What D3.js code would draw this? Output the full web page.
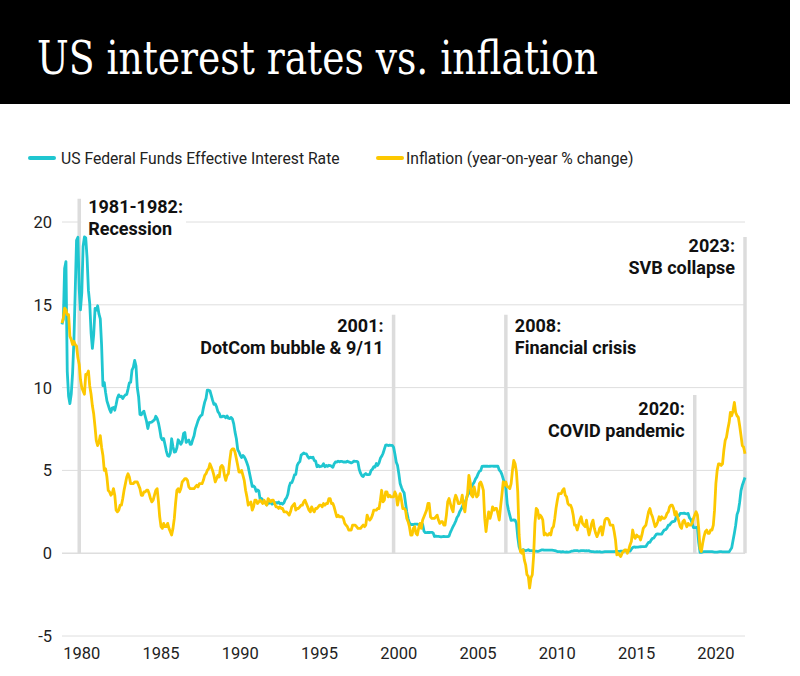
<!DOCTYPE html>
<html><head><meta charset="utf-8">
<script src="https://cdn.jsdelivr.net/npm/d3@7"></script>
<style>body{margin:0;background:#fff}svg{display:block}</style>
</head><body>
<svg id="chart" width="800" height="676"></svg>
<script>
// ---------------- DATA ----------------
const chartTitle = "US interest rates vs. inflation";
const seriesNames = ["US Federal Funds Effective Interest Rate", "Inflation (year-on-year % change)"];
const startYear = 1980; // monthly series starting January 1980

const fedFunds = [
 13.82,14.13,17.19,17.61,10.98,9.47,9.03,9.61,10.87,12.81,15.85,18.90,
 19.08,15.93,14.70,15.72,18.52,19.10,19.04,17.82,15.87,15.08,13.31,12.37,
 13.22,14.78,14.68,14.94,14.45,14.15,12.59,10.12,10.31,9.71,9.20,8.95,
 8.68,8.51,8.77,8.80,8.63,8.98,9.37,9.56,9.45,9.48,9.34,9.47,
 9.56,9.59,9.91,10.29,10.32,11.06,11.23,11.64,11.30,9.99,9.43,8.38,
 8.35,8.50,8.58,8.27,7.97,7.53,7.88,7.90,7.92,7.99,8.05,8.27,
 8.14,7.86,7.48,6.99,6.85,6.92,6.56,6.17,5.89,5.85,6.04,6.91,
 6.43,6.10,6.13,6.37,6.85,6.73,6.58,6.73,7.22,7.29,6.69,6.77,
 6.83,6.58,6.58,6.87,7.09,7.51,7.75,8.01,8.19,8.30,8.35,8.76,
 9.12,9.36,9.85,9.84,9.81,9.53,9.24,8.99,9.02,8.84,8.55,8.45,
 8.23,8.24,8.28,8.26,8.18,8.29,8.15,8.13,8.20,8.11,7.81,7.31,
 6.91,6.25,6.12,5.91,5.78,5.90,5.82,5.66,5.45,5.21,4.81,4.43,
 4.03,4.06,3.98,3.73,3.82,3.76,3.25,3.30,3.22,3.10,3.09,2.92,
 3.02,3.03,3.07,2.96,3.00,3.04,3.06,3.03,3.09,2.99,3.02,2.96,
 3.05,3.25,3.34,3.56,4.01,4.25,4.26,4.47,4.73,4.76,5.29,5.45,
 5.53,5.92,5.98,6.05,6.01,6.00,5.85,5.74,5.80,5.76,5.80,5.60,
 5.56,5.22,5.31,5.22,5.24,5.27,5.40,5.22,5.30,5.24,5.31,5.29,
 5.25,5.19,5.39,5.51,5.50,5.56,5.52,5.54,5.54,5.50,5.52,5.50,
 5.56,5.51,5.49,5.45,5.49,5.56,5.54,5.55,5.51,5.07,4.83,4.68,
 4.63,4.76,4.81,4.74,4.74,4.76,4.99,5.07,5.22,5.20,5.42,5.30,
 5.45,5.73,5.85,6.02,6.27,6.53,6.54,6.50,6.52,6.51,6.51,6.40,
 5.98,5.49,5.31,4.80,4.21,3.97,3.77,3.65,3.07,2.49,2.09,1.82,
 1.73,1.74,1.73,1.75,1.75,1.75,1.73,1.74,1.75,1.75,1.34,1.24,
 1.24,1.26,1.25,1.26,1.26,1.22,1.01,1.03,1.01,1.01,1.00,0.98,
 1.00,1.01,1.00,1.00,1.00,1.03,1.26,1.43,1.61,1.76,1.93,2.16,
 2.28,2.50,2.63,2.79,3.00,3.04,3.26,3.50,3.62,3.78,4.00,4.16,
 4.29,4.49,4.59,4.79,4.94,4.99,5.24,5.25,5.25,5.25,5.25,5.24,
 5.25,5.26,5.26,5.25,5.25,5.25,5.26,5.02,4.94,4.76,4.49,4.24,
 3.94,2.98,2.61,2.28,1.98,2.00,2.01,2.00,1.81,0.97,0.39,0.16,
 0.15,0.22,0.18,0.15,0.18,0.21,0.16,0.16,0.15,0.12,0.12,0.12,
 0.11,0.13,0.16,0.20,0.20,0.18,0.18,0.19,0.19,0.19,0.19,0.18,
 0.17,0.16,0.14,0.10,0.09,0.09,0.07,0.10,0.08,0.07,0.08,0.07,
 0.08,0.10,0.13,0.14,0.16,0.16,0.16,0.13,0.14,0.16,0.16,0.16,
 0.14,0.15,0.14,0.15,0.11,0.09,0.09,0.08,0.08,0.09,0.08,0.09,
 0.07,0.07,0.08,0.09,0.09,0.10,0.09,0.09,0.09,0.09,0.09,0.12,
 0.11,0.11,0.11,0.12,0.12,0.13,0.13,0.14,0.14,0.12,0.12,0.24,
 0.34,0.38,0.36,0.37,0.37,0.38,0.39,0.40,0.40,0.40,0.41,0.54,
 0.65,0.66,0.79,0.90,0.91,1.04,1.15,1.16,1.15,1.15,1.16,1.30,
 1.41,1.42,1.51,1.69,1.70,1.82,1.91,1.91,1.95,2.19,2.20,2.27,
 2.40,2.40,2.41,2.42,2.39,2.38,2.40,2.13,2.04,1.83,1.55,1.55,
 1.55,1.58,0.65,0.05,0.05,0.08,0.09,0.10,0.09,0.09,0.09,0.09,
 0.09,0.08,0.07,0.07,0.06,0.08,0.10,0.09,0.08,0.08,0.08,0.08,
 0.08,0.08,0.20,0.33,0.77,1.21,1.68,2.33,2.56,3.08,3.78,4.10,
 4.33,4.57
];

const inflation = [
 13.9,14.2,14.8,14.7,14.4,14.4,13.1,12.9,12.6,12.8,12.6,12.5,
 11.8,11.4,10.5,10.0,9.8,9.6,10.8,10.8,11.0,10.1,9.6,8.9,
 8.4,7.6,6.8,6.5,6.7,7.1,6.4,5.9,5.0,5.1,4.6,3.8,
 3.7,3.5,3.6,3.9,3.5,2.6,2.5,2.6,2.9,2.9,3.3,3.8,
 4.2,4.6,4.8,4.6,4.2,4.2,4.2,4.3,4.3,4.3,4.1,3.9,
 3.5,3.5,3.7,3.7,3.8,3.8,3.6,3.3,3.1,3.2,3.5,3.8,
 3.9,3.1,2.2,1.6,1.5,1.8,1.6,1.6,1.8,1.5,1.3,1.1,
 1.5,2.1,3.0,3.8,3.9,3.7,3.9,4.3,4.4,4.5,4.5,4.4,
 4.0,3.9,3.9,3.9,3.9,4.0,4.1,4.0,4.2,4.2,4.2,4.4,
 4.7,4.8,5.0,5.1,5.4,5.2,5.0,4.7,4.3,4.5,4.7,4.6,
 5.2,5.3,5.2,4.7,4.4,4.7,4.8,5.6,6.2,6.3,6.3,6.1,
 5.7,5.3,4.9,4.9,5.0,4.7,4.4,3.8,3.4,2.9,3.0,3.1,
 2.6,2.8,3.2,3.2,3.0,3.1,3.2,3.1,3.0,3.2,3.0,2.9,
 3.3,3.2,3.1,3.2,3.2,3.0,2.8,2.8,2.7,2.8,2.7,2.7,
 2.5,2.5,2.5,2.4,2.3,2.5,2.8,2.9,3.0,2.6,2.7,2.7,
 2.8,2.9,2.9,3.1,3.2,3.0,2.8,2.6,2.5,2.8,2.6,2.5,
 2.7,2.7,2.8,2.9,2.9,2.8,3.0,2.9,3.0,3.0,3.3,3.3,
 3.0,3.0,2.8,2.5,2.2,2.3,2.2,2.2,2.2,2.1,1.8,1.7,
 1.6,1.4,1.4,1.4,1.7,1.7,1.7,1.6,1.5,1.5,1.5,1.6,
 1.7,1.6,1.7,2.3,2.1,2.0,2.1,2.3,2.6,2.6,2.6,2.7,
 2.7,3.2,3.8,3.1,3.2,3.7,3.7,3.4,3.5,3.4,3.4,3.4,
 3.7,3.5,2.9,3.3,3.6,3.2,2.7,2.7,2.6,2.1,1.9,1.6,
 1.1,1.1,1.5,1.6,1.2,1.1,1.5,1.8,1.5,2.0,2.2,2.4,
 2.6,3.0,3.0,2.2,2.1,2.1,2.1,2.2,2.3,2.0,1.8,1.9,
 1.9,1.7,1.7,2.3,3.1,3.3,3.0,2.7,2.5,3.2,3.5,3.3,
 3.0,3.0,3.1,3.5,2.8,2.5,3.2,3.6,4.7,4.3,3.5,3.4,
 4.0,3.6,3.4,3.5,4.2,4.3,4.1,3.8,2.1,1.3,2.0,2.5,
 2.1,2.4,2.8,2.6,2.7,2.7,2.4,2.0,2.8,3.5,4.3,4.1,
 4.3,4.0,4.0,3.9,4.2,5.0,5.6,5.4,4.9,3.7,1.1,0.1,
 0.0,0.2,-0.4,-0.7,-1.3,-1.4,-2.1,-1.5,-1.3,-0.2,1.8,2.7,
 2.6,2.1,2.3,2.2,2.0,1.1,1.2,1.1,1.1,1.2,1.1,1.5,
 1.6,2.1,2.7,3.2,3.6,3.6,3.6,3.8,3.9,3.5,3.4,3.0,
 2.9,2.9,2.7,2.3,1.7,1.7,1.4,1.7,2.0,2.2,1.8,1.7,
 1.6,2.0,1.5,1.1,1.4,1.8,2.0,1.5,1.2,1.0,1.2,1.5,
 1.6,1.1,1.5,2.0,2.1,2.1,2.0,1.7,1.7,1.7,1.3,0.8,
 -0.1,0.0,-0.1,-0.2,0.0,0.1,0.2,0.2,0.0,0.2,0.5,0.7,
 1.4,1.0,0.9,1.1,1.0,1.0,0.8,1.1,1.5,1.6,1.7,2.1,
 2.5,2.7,2.4,2.2,1.9,1.6,1.7,1.9,2.2,2.0,2.2,2.1,
 2.1,2.2,2.4,2.5,2.8,2.9,2.9,2.7,2.3,2.5,2.2,1.9,
 1.6,1.5,1.9,2.0,1.8,1.6,1.8,1.7,1.7,1.8,2.1,2.3,
 2.5,2.3,1.5,0.3,0.1,0.6,1.0,1.3,1.4,1.2,1.2,1.4,
 1.4,1.7,2.6,4.2,5.0,5.4,5.4,5.3,5.4,6.2,6.8,7.0,
 7.5,7.9,8.5,8.3,8.6,9.1,8.5,8.3,8.2,7.7,7.1,6.5,
 6.4,6.0
];

const yTickValues = [-5, 0, 5, 10, 15, 20];
const xTickYears = [1980, 1985, 1990, 1995, 2000, 2005, 2010, 2015, 2020];

const eventDates = ["1981-02", "2000-12", "2008-01", "2019-12", "2023-02"];
const eventTitles = ["1981-1982:", "2001:", "2008:", "2020:", "2023:"];
const eventDescriptions = ["Recession", "DotCom bubble & 9/11", "Financial crisis", "COVID pandemic", "SVB collapse"];

// ---------------- LAYOUT / STYLE ----------------
const W = 800, H = 676;
const colors = ["#1fc6d0", "#fdc800"];
const plotLeft = 62, plotRight = 745;
const eventLayout = [
  {side: "right", top: 21.4, tY: 213},
  {side: "left",  top: 14.4, tY: 332},
  {side: "right", top: 14.4, tY: 332},
  {side: "left",  top: 9.55, tY: 415},
  {side: "left",  top: 19.1, tY: 252}
];

const svg = d3.select("#chart");
const parse = d3.timeParse("%Y-%m");
const dates = fedFunds.map((_, i) => new Date(startYear, i, 1));

const x = d3.scaleTime()
  .domain([dates[0], dates[dates.length - 1]])
  .range([plotLeft, plotRight]);
const y = d3.scaleLinear().domain([-5, 20]).range([636, 222]);

// title band
svg.append("rect").attr("x", 0).attr("y", 0).attr("width", 790).attr("height", 104).attr("fill", "#000");
svg.append("text").attr("x", 37).attr("y", 74)
  .attr("font-family", "'DejaVu Serif Condensed','DejaVu Serif',serif")
  .attr("font-stretch", "condensed")
  .attr("font-size", 46).attr("fill", "#fff")
  .attr("textLength", 561).attr("lengthAdjust", "spacingAndGlyphs")
  .text(chartTitle);

// legend
const legendPos = [{x: 30, tx: 61}, {x: 378, tx: 406}];
seriesNames.forEach((name, i) => {
  const g = svg.append("g");
  g.append("line").attr("x1", legendPos[i].x).attr("x2", legendPos[i].x + 24)
    .attr("y1", 158).attr("y2", 158).attr("stroke", colors[i]).attr("stroke-width", 4).attr("stroke-linecap", "round");
  g.append("text").attr("x", legendPos[i].tx).attr("y", 163.5)
    .attr("font-family", "Roboto, sans-serif").attr("font-size", 15.7).attr("fill", "#222").text(name);
});

// gridlines + y labels
const yAxis = svg.append("g");
yTickValues.forEach(v => {
  yAxis.append("line").attr("x1", plotLeft).attr("x2", plotRight)
    .attr("y1", y(v)).attr("y2", y(v)).attr("stroke", "#dedede").attr("stroke-width", v === 0 ? 1.5 : 1);
  yAxis.append("text").attr("x", 52).attr("y", y(v)).attr("dy", "0.36em").attr("text-anchor", "end")
    .attr("font-family", "Roboto, sans-serif").attr("font-size", 16.5).attr("fill", "#222").text(v);
});

// x labels (placed as in the reference)
const labelOffsetMonths = 15;
xTickYears.forEach(yr => {
  svg.append("text").attr("x", x(new Date(yr, labelOffsetMonths, 1))).attr("y", 659)
    .attr("text-anchor", "middle").attr("font-family", "Roboto, sans-serif")
    .attr("font-size", 16.5).attr("fill", "#222").text(yr);
});

// event lines + labels
eventDates.forEach((ds, i) => {
  const ex = x(parse(ds));
  const L = eventLayout[i];
  svg.append("line").attr("x1", ex).attr("x2", ex).attr("y1", y(L.top)).attr("y2", y(0))
    .attr("stroke", "#dcdcdc").attr("stroke-width", 3.5);
  const tx = L.side === "right" ? ex + 9 : ex - 10;
  const anchor = L.side === "right" ? "start" : "end";
  const g = svg.append("g");
  const t1 = g.append("text").attr("x", tx).attr("y", L.tY).attr("text-anchor", anchor)
    .attr("font-family", "Roboto, sans-serif").attr("font-weight", "bold").attr("font-size", 18)
    .attr("fill", "#111").text(eventTitles[i]);
  const t2 = g.append("text").attr("x", tx).attr("y", L.tY + 22).attr("text-anchor", anchor)
    .attr("font-family", "Roboto, sans-serif").attr("font-weight", "bold").attr("font-size", 18)
    .attr("fill", "#111").text(eventDescriptions[i]);
  if (i === 0) {
    const w = Math.max(t1.node().getComputedTextLength(), t2.node().getComputedTextLength());
    g.insert("rect", "text").attr("x", ex + 2).attr("y", L.tY - 16).attr("width", w + 10).attr("height", 44).attr("fill", "#fff");
  }
});

// series lines
const lineGen = d3.line().x((d, i) => x(dates[i])).y(d => y(d)).curve(d3.curveLinear);
[fedFunds, inflation].forEach((s, i) => {
  svg.append("path").datum(s).attr("d", lineGen).attr("fill", "none")
    .attr("stroke", colors[i]).attr("stroke-width", 2.8).attr("stroke-linejoin", "round");
});
</script>
</body></html>
